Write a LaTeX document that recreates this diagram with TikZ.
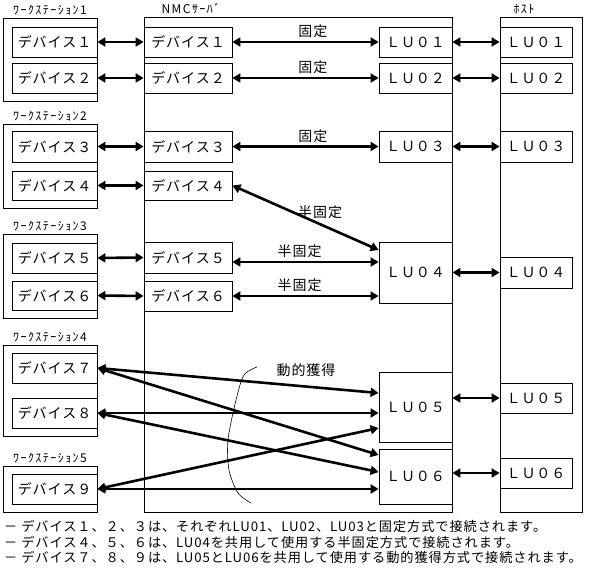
\documentclass[tikz,border=0pt]{standalone}
\usepackage{fontspec}
\usepackage{tikz}
\usetikzlibrary{arrows.meta,positioning}
\newfontfamily\jpfont{Noto Sans CJK JP}[LetterSpace=7]
\newfontfamily\jpsmall{Noto Sans CJK JP}[LetterSpace=12]

\begin{document}
\begin{tikzpicture}[x=1pt,y=-1pt,
    box/.style={draw,line width=0.8pt,inner sep=0pt,font=\jpfont\fontsize{14}{16}\selectfont},
    outerbox/.style={draw,line width=0.8pt,inner sep=0pt},
    wslabel/.style={inner sep=1pt,font=\jpsmall\fontsize{12}{14}\selectfont},
    tag/.style={inner sep=1pt,font=\jpfont\fontsize{14}{16}\selectfont},
    link/.style={{Triangle[length=8pt,width=9pt]}-{Triangle[length=8pt,width=9pt]},line width=2.6pt},
    note/.style={anchor=west,inner sep=0pt,font=\jpfont\fontsize{13.2}{16}\selectfont}]
        \useasboundingbox (0,0) rectangle (591,572);
        % workstations
        \node[outerbox,minimum width=94pt,minimum height=83pt] (ws1) at (50,59.5) {};
        \node[outerbox,minimum width=94pt,minimum height=84pt] (ws2) at (50,166) {};
        \node[outerbox,minimum width=94pt,minimum height=84pt] (ws3) at (50,276) {};
        \node[outerbox,minimum width=94pt,minimum height=91pt] (ws4) at (50,390.5) {};
        \node[outerbox,minimum width=94pt,minimum height=46pt] (ws5) at (50,489) {};
        \node[wslabel,above=1pt of ws1] (ws1label) {ﾜｰｸｽﾃｰｼｮﾝ1};
        \node[wslabel,above=1pt of ws2] (ws2label) {ﾜｰｸｽﾃｰｼｮﾝ2};
        \node[wslabel,above=1pt of ws3] (ws3label) {ﾜｰｸｽﾃｰｼｮﾝ3};
        \node[wslabel,above=1pt of ws4] (ws4label) {ﾜｰｸｽﾃｰｼｮﾝ4};
        \node[wslabel,above=1pt of ws5] (ws5label) {ﾜｰｸｽﾃｰｼｮﾝ5};
        \node[box,minimum width=85pt,minimum height=30pt] (wd1) at (54.5,42) {デバイス１};
        \node[box,minimum width=85pt,minimum height=30pt] (wd2) at (54.5,78) {デバイス２};
        \node[box,minimum width=85pt,minimum height=31pt] (wd3) at (54.5,146.5) {デバイス３};
        \node[box,minimum width=85pt,minimum height=29pt] (wd4) at (54.5,185.5) {デバイス４};
        \node[box,minimum width=85pt,minimum height=30pt] (wd5) at (54.5,258) {デバイス５};
        \node[box,minimum width=85pt,minimum height=29pt] (wd6) at (54.5,295.5) {デバイス６};
        \node[box,minimum width=85pt,minimum height=30pt] (wd7) at (54.5,368) {デバイス７};
        \node[box,minimum width=85pt,minimum height=30pt] (wd8) at (54.5,413) {デバイス８};
        \node[box,minimum width=85pt,minimum height=30pt] (wd9) at (54.5,489) {デバイス９};
        % NMC server
        \node[outerbox,minimum width=308pt,minimum height=495pt] (nmc) at (298,264.5) {};
        \node[wslabel] (nmclabel) at (191,9) {NMCｻｰﾊﾞ};
        \node[box,minimum width=88pt,minimum height=30pt] (nd1) at (188,42) {デバイス１};
        \node[box,minimum width=88pt,minimum height=30pt] (nd2) at (188,78) {デバイス２};
        \node[box,minimum width=88pt,minimum height=31pt] (nd3) at (188,146.5) {デバイス３};
        \node[box,minimum width=88pt,minimum height=29pt] (nd4) at (188,185.5) {デバイス４};
        \node[box,minimum width=88pt,minimum height=31pt] (nd5) at (188,257.5) {デバイス５};
        \node[box,minimum width=88pt,minimum height=30pt] (nd6) at (188,296) {デバイス６};
        \node[box,minimum width=73pt,minimum height=30pt] (lu1) at (415.5,42) {ＬＵ０１};
        \node[box,minimum width=73pt,minimum height=30pt] (lu2) at (415.5,78) {ＬＵ０２};
        \node[box,minimum width=73pt,minimum height=31pt] (lu3) at (415.5,146.5) {ＬＵ０３};
        \node[box,minimum width=73pt,minimum height=61pt] (lu4) at (415.5,272.5) {ＬＵ０４};
        \node[box,minimum width=73pt,minimum height=70pt] (lu5) at (415.5,407) {ＬＵ０５};
        \node[box,minimum width=73pt,minimum height=55pt] (lu6) at (415.5,476.5) {ＬＵ０６};
        % host
        \node[outerbox,minimum width=82pt,minimum height=495pt] (host) at (541,264.5) {};
        \node[wslabel] (hostlabel) at (524,9) {ﾎｽﾄ};
        \node[box,minimum width=72pt,minimum height=30pt] (hl1) at (536,42) {ＬＵ０１};
        \node[box,minimum width=72pt,minimum height=30pt] (hl2) at (536,78) {ＬＵ０２};
        \node[box,minimum width=72pt,minimum height=31pt] (hl3) at (536,146.5) {ＬＵ０３};
        \node[box,minimum width=72pt,minimum height=31pt] (hl4) at (536,272.5) {ＬＵ０４};
        \node[box,minimum width=72pt,minimum height=30pt] (hl5) at (536,398) {ＬＵ０５};
        \node[box,minimum width=72pt,minimum height=30pt] (hl6) at (536,473) {ＬＵ０６};
        % workstation to server
        \draw[link] (wd1.east) -- (nd1.west);
        \draw[link] (wd2.east) -- (nd2.west);
        \draw[link] (wd3.east) -- (nd3.west);
        \draw[link] (wd4.east) -- (nd4.west);
        \draw[link] (wd5.east) -- (nd5.west);
        \draw[link] (wd6.east) -- (nd6.west);
        % fixed and half fixed
        \draw[link] (nd1.east) -- (lu1.west) node[pos=0.55,above=2pt,tag] {固定};
        \draw[link] (nd2.east) -- (lu2.west) node[pos=0.55,above=2pt,tag] {固定};
        \draw[link] (nd3.east) -- (lu3.west) node[pos=0.55,above=2pt,tag] {固定};
        \draw[link] (nd4.east) -- ([yshift=22.5pt]lu4.west) node[pos=0.6,above=3pt,tag] {半固定};
        \draw[link] ([yshift=-4.5pt]nd5.east) -- ([yshift=10.5pt]lu4.west) node[pos=0.46,above=2pt,tag] {半固定};
        \draw[link] (nd6.east) -- ([yshift=-23.5pt]lu4.west) node[pos=0.46,above=2pt,tag] {半固定};
        % dynamic
        \draw[link] (wd7.east) -- ([yshift=14pt]lu5.west);
        \draw[link] (wd7.east) -- ([yshift=21.5pt]lu6.west);
        \draw[link] (wd8.east) -- ([yshift=-6pt]lu5.west);
        \draw[link] (wd8.east) -- ([yshift=4.5pt]lu6.west);
        \draw[link] (wd9.east) -- ([yshift=-21pt]lu5.west);
        \draw[link] (wd9.east) -- ([yshift=-12.5pt]lu6.west);
        \draw[line width=0.6pt] plot[smooth] coordinates {(257,367) (244,375) (236,400) (228,440) (229,470) (238,493) (251,503)};
        \node[tag] (dyn) at (306,370) {動的獲得};
        % server to host
        \draw[link] (lu1.east) -- (hl1.west);
        \draw[link] (lu2.east) -- (hl2.west);
        \draw[link] (lu3.east) -- (hl3.west);
        \draw[link] (lu4.east) -- (hl4.west);
        \draw[link] (lu5.east |- hl5.west) -- (hl5.west);
        \draw[link] (lu6.east |- hl6.west) -- (hl6.west);
        % notes
        \node[note] (note1) at (4,526) {－ デバイス１、２、３は、それぞれLU01、LU02、LU03と固定方式で接続されます。};
        \node[note] (note2) at (4,542) {－ デバイス４、５、６は、LU04を共用して使用する半固定方式で接続されます。};
        \node[note] (note3) at (4,557) {－ デバイス７、８、９は、LU05とLU06を共用して使用する動的獲得方式で接続されます。};
      \end{tikzpicture}
\end{document}
